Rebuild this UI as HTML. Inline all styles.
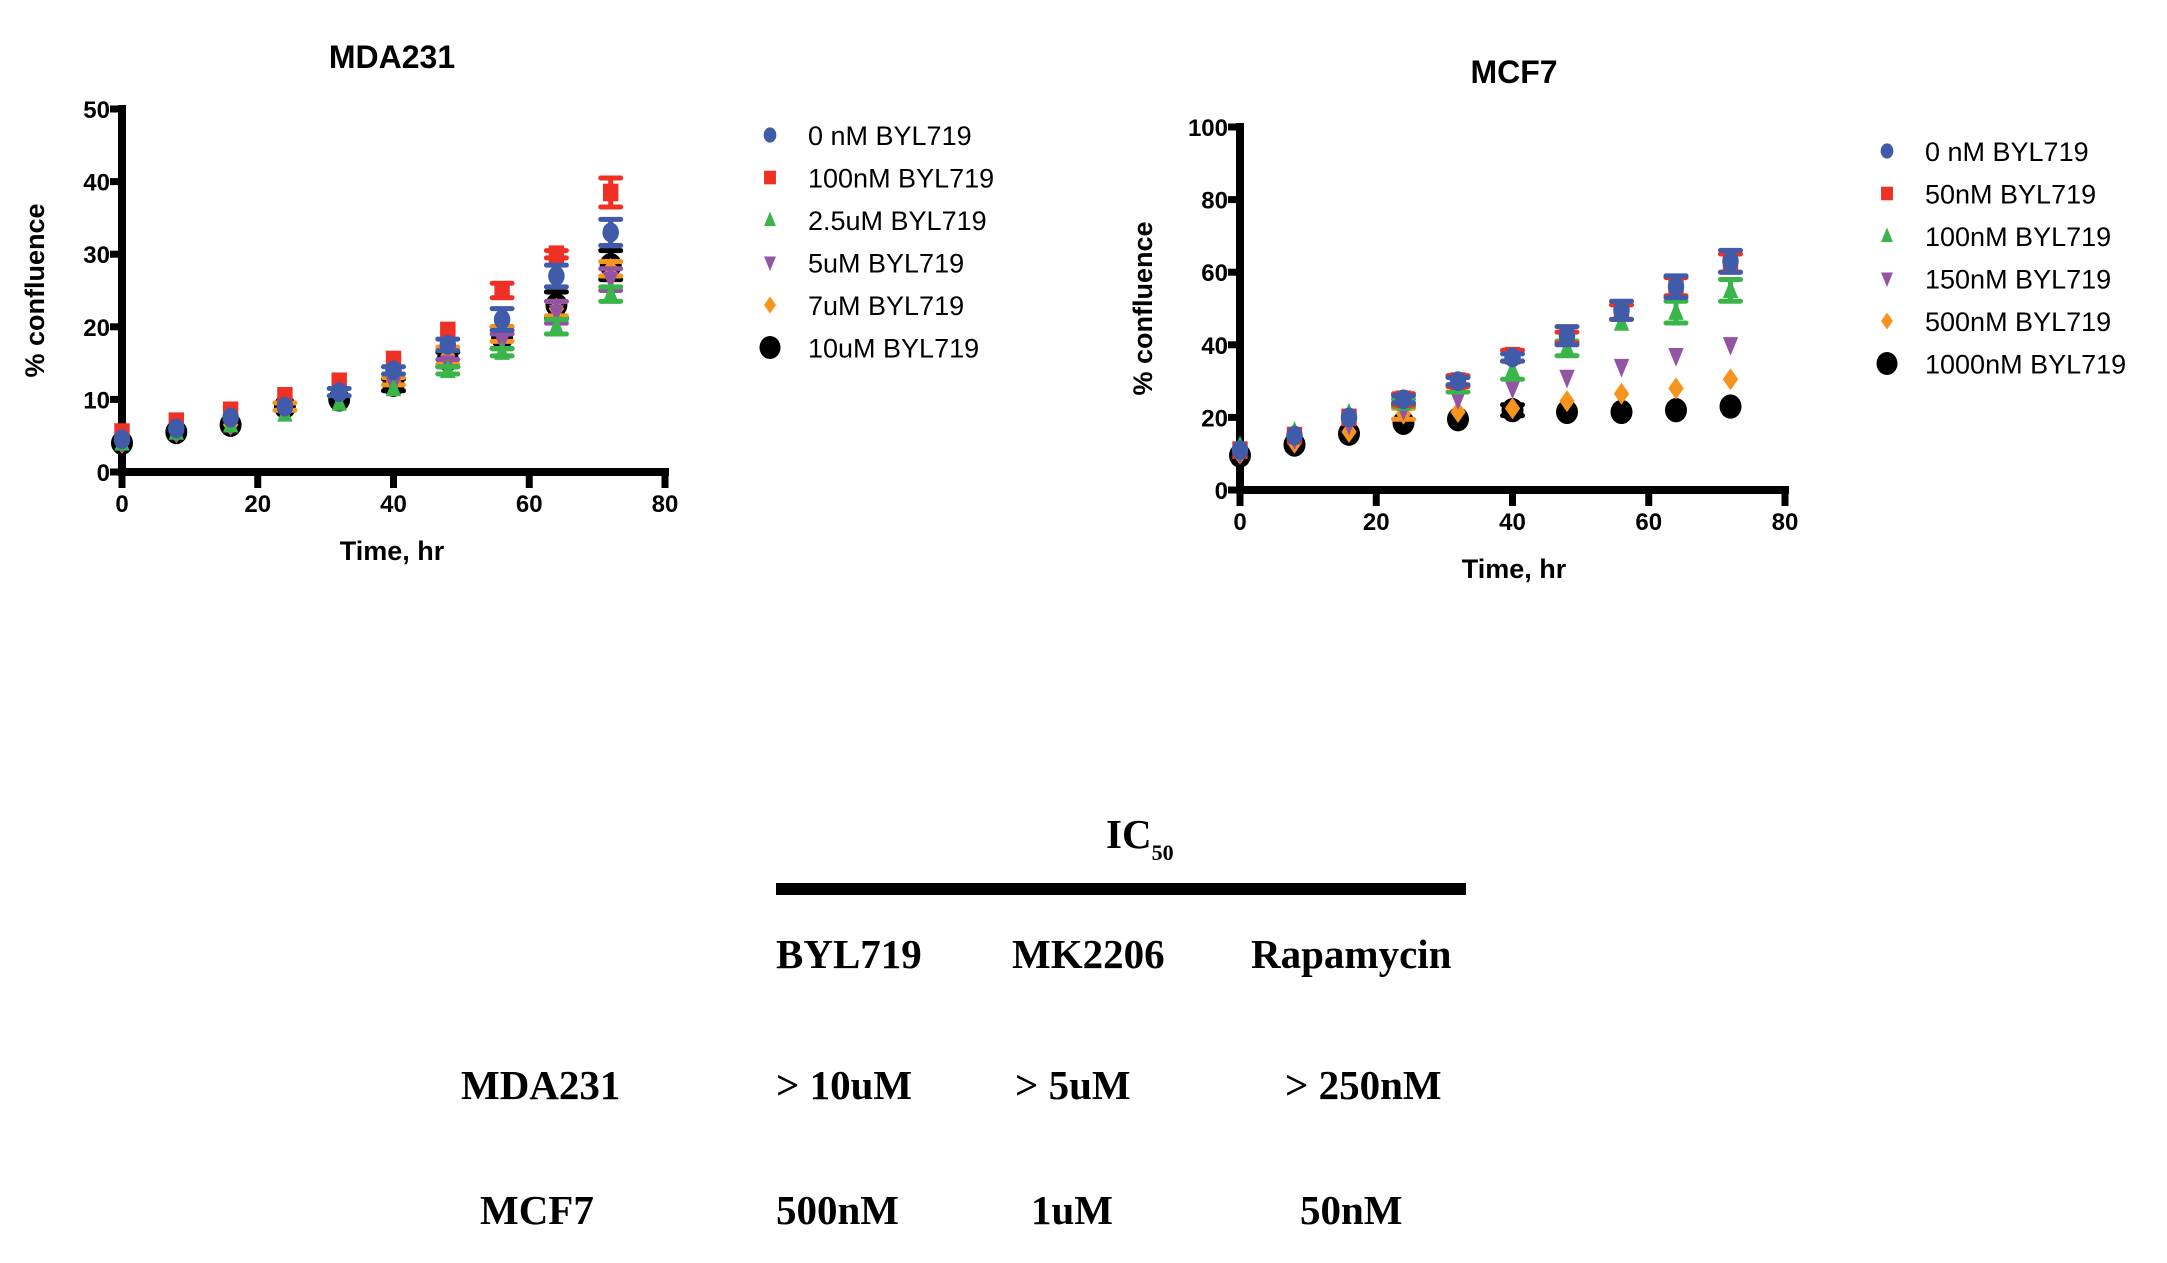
<!DOCTYPE html>
<html><head><meta charset="utf-8"><style>
html,body{margin:0;padding:0;background:#fff;}
svg{display:block;}
.tk{font-family:"Liberation Sans",sans-serif;font-weight:bold;font-size:24px;fill:#000;}
.lg{font-family:"Liberation Sans",sans-serif;font-size:27px;fill:#000;}
.tt{font-family:"Liberation Sans",sans-serif;font-weight:bold;font-size:32px;fill:#000;}
.ax{font-family:"Liberation Sans",sans-serif;font-weight:bold;font-size:27px;fill:#000;}
.tb{font-family:"Liberation Serif",serif;font-weight:bold;font-size:41px;fill:#000;}
</style></head><body>
<svg id="fig" width="2167" height="1263" viewBox="0 0 2167 1263" xmlns="http://www.w3.org/2000/svg">
<g id="c1"></g>
<g id="c2"></g>
<g id="table">
  <text class="tb" x="1106" y="848">IC<tspan font-size="22" dy="12">50</tspan></text>
  <rect x="776" y="883" width="690" height="12" fill="#000"/>
  <text class="tb" x="776" y="968">BYL719</text>
  <text class="tb" x="1012" y="968">MK2206</text>
  <text class="tb" x="1251" y="968">Rapamycin</text>
  <text class="tb" x="461" y="1099">MDA231</text>
  <text class="tb" x="776" y="1099">&gt; 10uM</text>
  <text class="tb" x="1015" y="1099">&gt; 5uM</text>
  <text class="tb" x="1285" y="1099">&gt; 250nM</text>
  <text class="tb" x="480" y="1224">MCF7</text>
  <text class="tb" x="776" y="1224">500nM</text>
  <text class="tb" x="1031" y="1224">1uM</text>
  <text class="tb" x="1300" y="1224">50nM</text>
</g>
</svg>
<script>
const times = [0,8,16,24,32,40,48,56,64,72];
const xTicks = [0,20,40,60,80];
const mdaYTicks = [0,10,20,30,40,50];
const mcfYTicks = [0,20,40,60,80,100];
const mdaLabels = ["0 nM BYL719","100nM BYL719","2.5uM BYL719","5uM BYL719","7uM BYL719","10uM BYL719"];
const mcfLabels = ["0 nM BYL719","50nM BYL719","100nM BYL719","150nM BYL719","500nM BYL719","1000nM BYL719"];
const mda0 = [4.5,6,7.5,9,11,14,17.5,21,27,33];
const mda100 = [5.5,7,8.5,10.5,12.5,15.5,19.5,25,30,38.5];
const mda2_5 = [4,5.5,6.5,8,9.5,11.5,14,16.5,20,24.5];
const mda5 = [4,5.5,6.5,8.5,10,12,15,18,22,26.5];
const mda7 = [4,5.5,6.5,9,10.5,12.5,16,19,22.5,28];
const mda10 = [4,5.5,6.5,9,10,12,15.5,18.5,23,28.5];
const mda0Err = [0,0,0,0,0.5,0.5,0.8,1.5,1.5,1.8];
const mda100Err = [0,0,0,0,0,0,0,1,0.5,2];
const mda2_5Err = [0,0,0,0,0,0,0.5,0.5,1,1];
const mda5Err = [0,0,0,0,0,0,0.5,1,1.5,1.5];
const mda7Err = [0,0,0,0.5,0,0.5,1.2,1,1,1];
const mda10Err = [0,0,0,0,0,0.8,1,1.5,1.8,2];
const mcf0 = [11,15,20,25,30,36.5,42.5,49.5,56,63];
const mcf50 = [11,15,20,25,30,37,42,49,56,62.5];
const mcf100 = [12,16,21,24,29,33,39,46,49,55];
const mcf150 = [10,14,18,22,25,28,31,34,37,40];
const mcf500 = [10,13,16,21,21.5,22.5,24.5,26.5,28,30.5];
const mcf1000 = [9.5,12.5,15.5,18.5,19.5,22,21.5,21.5,22,23];
const mcf0Err = [0,0,0,1,1,1,2.5,2.5,3,3];
const mcf50Err = [0,0,0,1.5,1.5,1.5,1.5,2,2.5,2.5];
const mcf100Err = [0,0,0,1,2,2.5,2,0,3,3];
const mcf150Err = [0,0,0,0,0,0,0,0,0,0];
const mcf500Err = [0,0,0,1.5,0,0,0,0,0,0];
const mcf1000Err = [0,0,0,0,0,1.5,0,0,0,0];

const NS='http://www.w3.org/2000/svg';
const COLORS=['#3f5ba9','#ee3124','#39b54a','#9454a4','#f7941d','#000000'];
const SHAPES=['circle','square','up','down','diamond','bigcircle'];
function mk(tag,attrs,parent){const e=document.createElementNS(NS,tag);for(const k in attrs)e.setAttribute(k,attrs[k]);parent.appendChild(e);return e;}
function marker(g,shape,cx,cy,color,s){
  let e;
  if(shape==='circle') e=mk('ellipse',{cx:cx,cy:cy,rx:7.5*s,ry:9*s,fill:color},g);
  else if(shape==='bigcircle') e=mk('ellipse',{cx:cx,cy:cy,rx:10*s,ry:11*s,fill:color},g);
  else if(shape==='square') e=mk('rect',{x:cx-7*s,y:cy-8*s,width:14*s,height:16*s,fill:color},g);
  else if(shape==='up') e=mk('polygon',{points:`${cx},${cy-10*s} ${cx-7*s},${cy+7*s} ${cx+7*s},${cy+7*s}`,fill:color},g);
  else if(shape==='down') e=mk('polygon',{points:`${cx},${cy+10*s} ${cx-7*s},${cy-7*s} ${cx+7*s},${cy-7*s}`,fill:color},g);
  else e=mk('polygon',{points:`${cx},${cy-10*s} ${cx+7*s},${cy} ${cx},${cy+10*s} ${cx-7*s},${cy}`,fill:color},g);
  return e;
}
function chart(g,cfg){
  const X=v=>cfg.x0+(v-0)/80*(cfg.x1-cfg.x0);
  const Y=v=>cfg.y0-(v/cfg.ymax)*(cfg.y0-cfg.y1);
  let t=mk('text',{class:'tt',x:cfg.tx,y:cfg.ty,'text-anchor':'middle'},g);t.textContent=cfg.title;
  
  
  let a=mk('line',{x1:cfg.x0,y1:cfg.y1-4,x2:cfg.x0,y2:cfg.y0+4,stroke:'#000','stroke-width':8},g);
  
  
  a=mk('line',{x1:cfg.x0-4,y1:cfg.y0,x2:cfg.x1+4,y2:cfg.y0,stroke:'#000','stroke-width':8},g);
  
  
  cfg.yt.forEach(v=>{
    const l=mk('line',{x1:cfg.x0-12,y1:Y(v),x2:cfg.x0,y2:Y(v),stroke:'#000','stroke-width':7},g);
    
    
    const tx=mk('text',{class:'tk',x:cfg.x0-12,y:Y(v)+9,'text-anchor':'end'},g);tx.textContent=v;
    
    
  });
  xTicks.forEach(v=>{
    const l=mk('line',{x1:X(v),y1:cfg.y0,x2:X(v),y2:cfg.y0+16,stroke:'#000','stroke-width':7},g);
    
    
    const tx=mk('text',{class:'tk',x:X(v),y:cfg.y0+40,'text-anchor':'middle'},g);tx.textContent=v;
    
    
  });
  t=mk('text',{class:'ax',x:cfg.tx,y:cfg.y0+88,'text-anchor':'middle'},g);t.textContent='Time, hr';
  
  
  const ym=(cfg.y0+cfg.y1)/2;
  t=mk('text',{class:'ax',x:cfg.yx,y:ym,'text-anchor':'middle',transform:`rotate(-90 ${cfg.yx} ${ym})`},g);t.textContent='% confluence';
  
  
  const order=[5,4,3,2,1,0];
  order.forEach(i=>{
    const sg=mk('g',{},g);
    
    
    const vals=cfg.series[i],errs=cfg.errs[i],c=COLORS[i];
    vals.forEach((v,k)=>{
      const cx=X(times[k]),cy=Y(v);
      if(errs[k]>0){
        const e=mk('path',{d:`M${cx},${Y(v-errs[k])}V${Y(v+errs[k])}M${cx-10},${Y(v+errs[k])}H${cx+10}M${cx-10},${Y(v-errs[k])}H${cx+10}`,stroke:c,'stroke-width':5,fill:'none','stroke-linecap':'round'},sg);
        
        
      }
      const m=marker(sg,SHAPES[i],cx,cy,c,1.1);
      
      
    });
  });
  cfg.labels.forEach((lab,i)=>{
    const ly=cfg.ly+i*cfg.lstep;
    const lg=mk('g',{},g);
    
    
    marker(lg,SHAPES[i],cfg.lx,ly,COLORS[i],i===5?1.05:0.85);
    const tx=mk('text',{class:'lg',x:cfg.lx+38,y:ly+10},lg);tx.textContent=lab;
  });
}
chart(document.getElementById('c1'),{x0:122,x1:665,y0:472,y1:109,ymax:50,yt:mdaYTicks,title:'MDA231',tx:392,ty:68,yx:44,
  series:[mda0,mda100,mda2_5,mda5,mda7,mda10],errs:[mda0Err,mda100Err,mda2_5Err,mda5Err,mda7Err,mda10Err],labels:mdaLabels,lx:770,ly:135,lstep:42.5});
chart(document.getElementById('c2'),{x0:1240,x1:1785,y0:490,y1:127,ymax:100,yt:mcfYTicks,title:'MCF7',tx:1514,ty:83,yx:1152,
  series:[mcf0,mcf50,mcf100,mcf150,mcf500,mcf1000],errs:[mcf0Err,mcf50Err,mcf100Err,mcf150Err,mcf500Err,mcf1000Err],labels:mcfLabels,lx:1887,ly:151,lstep:42.5});
</script>
</body></html>
